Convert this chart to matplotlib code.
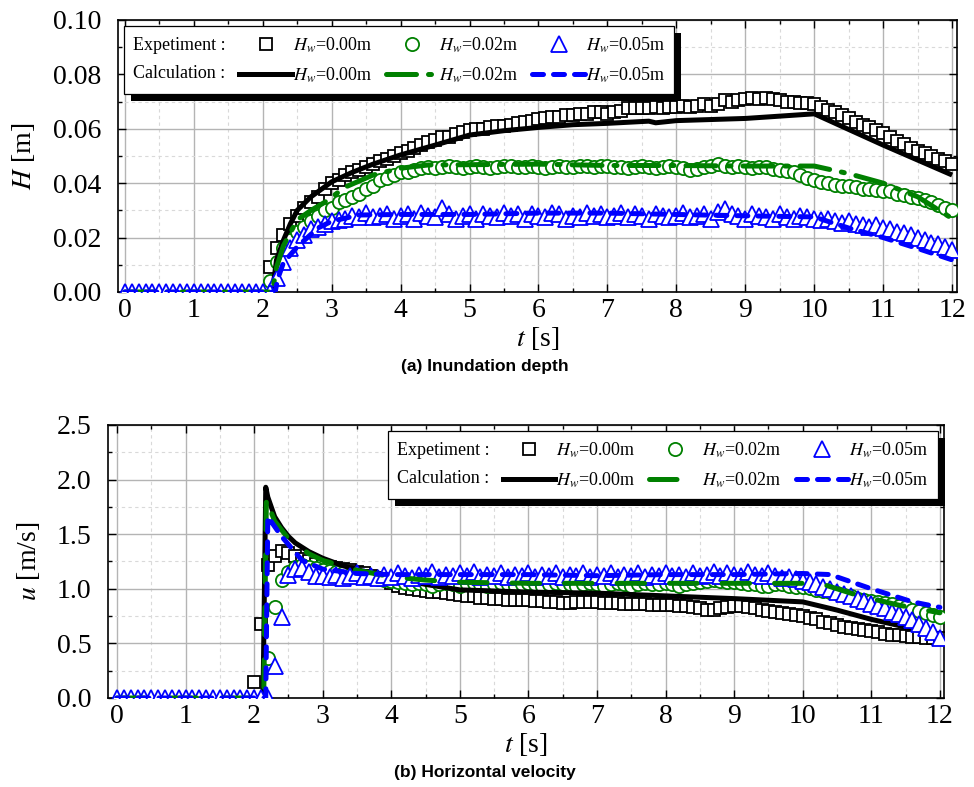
import numpy as np
import matplotlib
matplotlib.use("Agg")
import matplotlib.pyplot as plt
from matplotlib.lines import Line2D
from matplotlib.patches import Rectangle
from matplotlib.ticker import MultipleLocator

plt.rcParams['font.family'] = ['Liberation Serif', 'DejaVu Serif']
plt.rcParams['mathtext.fontset'] = 'stix'

# ---------------- (a) inundation depth H [m] ----------------
# experiment, sampled every 0.1 s
H_exp_00_start = 2.1
H_exp_00 = [0.009, 0.016, 0.021, 0.025, 0.028, 0.031, 0.033, 0.035, 0.038, 0.040,
            0.041, 0.043, 0.044, 0.045, 0.046, 0.047, 0.048, 0.049, 0.050, 0.051,
            0.052, 0.053, 0.054, 0.055, 0.056, 0.057, 0.057, 0.058, 0.059, 0.0595,
            0.060, 0.060, 0.0605, 0.061, 0.061, 0.0615, 0.062, 0.0625, 0.063, 0.0635,
            0.064, 0.0645, 0.0645, 0.065, 0.065, 0.0655, 0.0655, 0.066, 0.066, 0.0655,
            0.066, 0.0665, 0.0675, 0.0675, 0.0675, 0.0675, 0.068, 0.0675, 0.068, 0.068,
            0.0685, 0.068, 0.0685, 0.069, 0.0685, 0.069, 0.0705, 0.070, 0.0705, 0.071,
            0.0715, 0.071, 0.0715, 0.071, 0.0705, 0.070, 0.070, 0.0695, 0.0695, 0.069,
            0.068, 0.067, 0.066, 0.065, 0.064, 0.0625, 0.0615, 0.0605, 0.0595, 0.0585,
            0.057, 0.0555, 0.0545, 0.053, 0.052, 0.051, 0.050, 0.049, 0.048, 0.047]
H_exp_02_start = 2.1
H_exp_02 = [0.004, 0.011, 0.016, 0.019, 0.022, 0.024, 0.026, 0.028, 0.030, 0.031,
            0.033, 0.034, 0.035, 0.036, 0.038, 0.039, 0.041, 0.042, 0.043, 0.044,
            0.044, 0.045, 0.0455, 0.046, 0.0455, 0.046, 0.0465, 0.046, 0.0455, 0.046,
            0.0465, 0.046, 0.0455, 0.046, 0.0465, 0.0462, 0.0458, 0.046, 0.0465, 0.046,
            0.0455, 0.046, 0.0465, 0.046, 0.0458, 0.0462, 0.0465, 0.046, 0.0465, 0.0462,
            0.0458, 0.046, 0.0455, 0.046, 0.0462, 0.0458, 0.0455, 0.046, 0.0462, 0.0458,
            0.0455, 0.045, 0.0452, 0.046, 0.0465, 0.047, 0.0465, 0.046, 0.0462, 0.0458,
            0.0455, 0.046, 0.0458, 0.0452, 0.045, 0.0445, 0.044, 0.043, 0.042, 0.041,
            0.0405, 0.040, 0.0395, 0.039, 0.039, 0.0385, 0.038, 0.038, 0.0375, 0.037,
            0.037, 0.036, 0.0355, 0.035, 0.0345, 0.034, 0.033, 0.032, 0.031, 0.030]
H_exp_05_start = 0.0
H_exp_05 = [0, 0, 0, 0, 0, 0, 0, 0, 0, 0, 0, 0, 0, 0, 0, 0, 0, 0, 0, 0, 0, 0,
            0.005, 0.011, 0.016, 0.019, 0.021, 0.023, 0.024, 0.025, 0.026,
            0.0265, 0.027, 0.028, 0.0275, 0.029, 0.0275, 0.028, 0.0285, 0.027, 0.028,
            0.0285, 0.027, 0.029, 0.028, 0.0275, 0.031, 0.0285, 0.027, 0.028, 0.0285,
            0.027, 0.0285, 0.028, 0.0275, 0.029, 0.028, 0.0285, 0.027, 0.0285, 0.028,
            0.0275, 0.029, 0.0285, 0.027, 0.028, 0.0275, 0.029, 0.028, 0.0285, 0.0275,
            0.028, 0.029, 0.0275, 0.0285, 0.028, 0.027, 0.0285, 0.028, 0.0275, 0.028,
            0.029, 0.0275, 0.028, 0.0285, 0.027, 0.0295, 0.0305, 0.0285, 0.028, 0.027,
            0.0285, 0.028, 0.0275, 0.027, 0.0285, 0.0275, 0.027, 0.028, 0.0275, 0.027,
            0.0265, 0.027, 0.026, 0.0255, 0.026, 0.025, 0.0245, 0.024, 0.0245, 0.0235,
            0.023, 0.022, 0.0215, 0.021, 0.020, 0.019, 0.018, 0.0175, 0.0165, 0.0155]

# calculation
t_H_calc_00 = [0, 2.14, 2.2, 2.3, 2.4, 2.5, 2.7, 3.0, 3.3, 3.6, 4.0, 4.5, 5.0, 5.5,
               6.0, 6.5, 7.0, 7.6, 7.7, 8.0, 9.0, 10.0, 11.0, 12.0]
H_calc_00 = [0, 0, 0.0118, 0.019, 0.025, 0.030, 0.035, 0.0405, 0.044, 0.047, 0.0504,
             0.054, 0.0577, 0.0593, 0.0605, 0.0615, 0.062, 0.0628, 0.0622, 0.063,
             0.0638, 0.0655, 0.054, 0.043]
t_H_calc_02 = [0, 2.14, 2.2, 2.3, 2.5, 2.7, 2.9, 3.2, 3.6, 4.0, 4.4, 5.0, 6.0, 7.0,
               8.0, 9.0, 10.0, 10.5, 11.0, 11.5, 12.0]
H_calc_02 = [0, 0, 0.009, 0.017, 0.0265, 0.030, 0.033, 0.0386, 0.043, 0.0455, 0.0467,
             0.0468, 0.047, 0.0465, 0.0465, 0.0463, 0.0463, 0.0435, 0.040, 0.035, 0.027]
t_H_calc_05 = [0, 2.18, 2.22, 2.3, 2.5, 2.8, 3.0, 3.4, 4.0, 5.0, 6.0, 7.0, 8.0, 9.0,
               10.0, 10.5, 11.0, 11.5, 12.0]
H_calc_05 = [0, 0, 0.005, 0.0107, 0.0166, 0.0235, 0.026, 0.0283, 0.0285, 0.0285,
             0.029, 0.029, 0.0285, 0.028, 0.0276, 0.0235, 0.020, 0.016, 0.0118]

# ---------------- (b) horizontal velocity u [m/s] ----------------
u_exp_00_start = 2.0
u_exp_00 = [0.15, 0.68, 1.22, 1.30, 1.35, 1.33, 1.30, 1.27, 1.25, 1.23,
            1.21, 1.20, 1.19, 1.18, 1.17, 1.15, 1.14, 1.12, 1.10, 1.08,
            1.05, 1.03, 1.01, 1.00, 0.99, 0.98, 0.97, 0.97, 0.96, 0.95,
            0.94, 0.93, 0.93, 0.92, 0.92, 0.91, 0.91, 0.90, 0.90, 0.90,
            0.90, 0.89, 0.89, 0.88, 0.88, 0.87, 0.87, 0.88, 0.88, 0.88,
            0.88, 0.87, 0.87, 0.87, 0.86, 0.86, 0.86, 0.86, 0.85, 0.85,
            0.85, 0.85, 0.84, 0.84, 0.83, 0.82, 0.81, 0.81, 0.82, 0.83,
            0.84, 0.84, 0.83, 0.82, 0.81, 0.80, 0.79, 0.78, 0.77, 0.76,
            0.75, 0.73, 0.72, 0.70, 0.69, 0.67, 0.65, 0.64, 0.63, 0.62,
            0.61, 0.60, 0.59, 0.58, 0.58, 0.57, 0.56, 0.56, 0.55, 0.55,
            0.55]
u_exp_02_start = 2.2
u_exp_02 = [0.37, 0.83, 1.08, 1.15, 1.20, 1.22, 1.20, 1.19,
            1.17, 1.16, 1.15, 1.14, 1.13, 1.12, 1.11, 1.10, 1.09, 1.08,
            1.07, 1.06, 1.05, 1.04, 1.05, 1.04, 1.03, 1.04, 1.05, 1.04,
            1.03, 1.04, 1.05, 1.04, 1.03, 1.04, 1.05, 1.04, 1.03, 1.04,
            1.05, 1.04, 1.03, 1.04, 1.05, 1.04, 1.04, 1.03, 1.04, 1.05,
            1.04, 1.03, 1.04, 1.05, 1.04, 1.03, 1.04, 1.05, 1.04, 1.04,
            1.05, 1.04, 1.03, 1.04, 1.05, 1.06, 1.07, 1.08, 1.07, 1.06,
            1.06, 1.05, 1.04, 1.04, 1.03, 1.03, 1.04, 1.04, 1.03, 1.02,
            1.02, 1.01, 0.99, 0.98, 0.97, 0.96, 0.94, 0.93, 0.91, 0.90,
            0.89, 0.88, 0.87, 0.86, 0.84, 0.83, 0.81, 0.80, 0.78, 0.76,
            0.74]
u_exp_05_start = 0.0
u_exp_05 = [0, 0, 0, 0, 0, 0, 0, 0, 0, 0, 0, 0, 0, 0, 0, 0, 0, 0, 0, 0, 0, 0, 0,
            0.29, 0.74, 1.13, 1.18, 1.19, 1.15, 1.12,
            1.12, 1.11, 1.13, 1.10, 1.12, 1.14, 1.11, 1.12, 1.10, 1.13,
            1.11, 1.14, 1.12, 1.10, 1.13, 1.12, 1.15, 1.11, 1.13, 1.12,
            1.14, 1.12, 1.15, 1.11, 1.13, 1.12, 1.14, 1.11, 1.13, 1.12,
            1.14, 1.11, 1.13, 1.12, 1.14, 1.11, 1.13, 1.12, 1.14, 1.11,
            1.13, 1.12, 1.14, 1.11, 1.13, 1.12, 1.14, 1.11, 1.13, 1.12,
            1.14, 1.12, 1.13, 1.11, 1.14, 1.12, 1.13, 1.15, 1.12, 1.14,
            1.13, 1.12, 1.15, 1.13, 1.12, 1.14, 1.12, 1.10, 1.11, 1.09,
            1.07, 1.06, 1.04, 1.02, 1.00, 0.97, 0.95, 0.93, 0.91, 0.89,
            0.86, 0.84, 0.82, 0.79, 0.77, 0.74, 0.71, 0.68, 0.64, 0.60,
            0.55]

t_u_calc_00 = [0, 2.13, 2.17, 2.2, 2.3, 2.4, 2.5, 2.6, 2.8, 3.0, 3.3, 3.6, 4.0, 4.5,
               5.0, 6.0, 7.0, 8.0, 9.0, 10.0, 10.5, 11.0, 11.5, 12.0]
u_calc_00 = [0, 0, 1.93, 1.84, 1.66, 1.56, 1.48, 1.42, 1.34, 1.28, 1.21, 1.16, 1.11,
             1.04, 0.99, 0.97, 0.96, 0.935, 0.91, 0.88, 0.805, 0.72, 0.65, 0.57]
t_u_calc_02 = [0, 2.14, 2.18, 2.2, 2.3, 2.5, 2.8, 3.0, 3.5, 4.0, 4.5, 5.0, 6.0, 7.0,
               8.0, 9.0, 10.0, 10.3, 10.8, 11.4, 12.0]
u_calc_02 = [0, 0, 1.85, 1.78, 1.62, 1.46, 1.32, 1.26, 1.17, 1.11, 1.08, 1.06, 1.05,
             1.05, 1.05, 1.05, 1.05, 1.04, 0.94, 0.85, 0.78]
t_u_calc_05 = [0, 2.17, 2.2, 2.4, 2.7, 3.0, 3.5, 4.0, 5.0, 6.0, 7.0, 8.0, 9.0, 10.0,
               10.4, 10.7, 11.0, 11.3, 11.6, 12.0]
u_calc_05 = [0, 0, 1.66, 1.48, 1.26, 1.18, 1.14, 1.13, 1.13, 1.13, 1.12, 1.13, 1.13,
             1.14, 1.13, 1.065, 1.0, 0.94, 0.88, 0.83]

labels_hw = [r'$H_w$=0.00m', r'$H_w$=0.02m', r'$H_w$=0.05m']
colors = ['black', '#008000', '#0000ff']
markers = ['s', 'o', '^']
msizes = [8.5, 9.5, 11]


def times(start, vals):
    return np.round(start + 0.1 * np.arange(len(vals)), 2)


def style_axes(ax, ymax, ymajor, yminor):
    ax.set_xlim(-0.1, 12.07)
    ax.set_ylim(0, ymax)
    ax.xaxis.set_major_locator(MultipleLocator(1))
    ax.xaxis.set_minor_locator(MultipleLocator(0.5))
    ax.yaxis.set_major_locator(MultipleLocator(ymajor))
    ax.yaxis.set_minor_locator(MultipleLocator(yminor))
    ax.grid(which='major', color='#b4b4b4', lw=1.0, ls='-')
    ax.grid(which='minor', color='#d9d9d9', lw=0.8, ls=(0, (3, 3)))
    ax.set_axisbelow(True)
    ax.tick_params(which='both', direction='in', top=True, right=True,
                   labelsize=20, width=1.0)
    ax.tick_params(axis='x', which='both', pad=4)
    ax.tick_params(axis='y', which='both', pad=12)
    ax.tick_params(which='major', length=6)
    ax.tick_params(which='minor', length=3)
    for s in ax.spines.values():
        s.set_linewidth(1.2)


def add_legend(ax, calc_styles, loc):
    blank = Line2D([], [], ls='none', marker='none')
    exp_h = [Line2D([], [], ls='none', marker=m, ms=ms, mfc='white', mec=c, mew=1.3)
             for m, ms, c in zip(markers, msizes, colors)]
    handles = [blank, blank]
    labels = ['Expetiment :', 'Calculation :']
    for eh, ch, lab in zip(exp_h, calc_styles, labels_hw):
        handles += [eh, ch]
        labels += [lab, lab]
    leg = ax.legend(handles, labels, ncol=4, loc=loc, fontsize=13,
                    frameon=True, fancybox=False, framealpha=1, edgecolor='black',
                    handlelength=2.9, handletextpad=0.05, columnspacing=0.75,
                    borderpad=0.5, labelspacing=0.6, borderaxespad=0.35)
    leg.get_frame().set_linewidth(0.9)
    # first column is text only: drop its handle space
    cols = leg._legend_handle_box.get_children()
    for item in cols[0].get_children():
        item.get_children()[0].width = 0
        item.sep = 0
    return leg


def add_shadow(fig, ax, leg):
    renderer = fig.canvas.get_renderer()
    bb = leg.get_window_extent(renderer)
    inv = ax.transAxes.inverted()
    (x0, y0), (x1, y1) = inv.transform([[bb.x0 + 7, bb.y0 - 7], [bb.x1 + 7, bb.y1 - 7]])
    ax.add_patch(Rectangle((x0, y0), x1 - x0, y1 - y0, transform=ax.transAxes,
                           facecolor='black', edgecolor='none', zorder=4.9,
                           clip_on=False))


fig = plt.figure(figsize=(9.74, 7.87), dpi=100)
ax1 = fig.add_axes([0.1211, 0.6290, 0.8614, 0.3456])
ax2 = fig.add_axes([0.1109, 0.1131, 0.8583, 0.3469])

# ---- panel (a)
lw = 3.6
calc_a = [dict(ls='-', color='black'),
          dict(ls=(0, (6, 2.4, 0.6, 2.4)), color='#008000'),
          dict(ls=(0, (2.2, 2.0)), color='#0000ff')]
exp_a = [(H_exp_00_start, H_exp_00), (H_exp_02_start, H_exp_02), (H_exp_05_start, H_exp_05)]
calc_a_data = [(t_H_calc_00, H_calc_00), (t_H_calc_02, H_calc_02), (t_H_calc_05, H_calc_05)]
for i in range(3):
    st, vals = exp_a[i]
    ax1.plot(times(st, vals), vals, ls='none', marker=markers[i], ms=msizes[i],
             mfc='white', mec=colors[i], mew=1.3, zorder=2 + i)
for i in range(3):
    tc, vc = calc_a_data[i]
    ax1.plot(tc, vc, lw=lw, solid_capstyle='butt', dash_capstyle='round',
             zorder=3 + i, **calc_a[i])
style_axes(ax1, 0.10, 0.02, 0.01)
ax1.set_xlabel(r'$t$ [s]', fontsize=20, labelpad=2)
ax1.set_ylabel(r'$H$ [m]', fontsize=20)
ax1.yaxis.set_label_coords(-0.097, 0.5)
leg_a_styles = [Line2D([], [], lw=lw, **calc_a[0]),
                Line2D([], [], lw=lw, dash_capstyle='round', **calc_a[1]),
                Line2D([], [], lw=lw, dash_capstyle='round', **calc_a[2])]
leg1 = add_legend(ax1, leg_a_styles, 'upper left')

# ---- panel (b)
calc_b = [dict(ls='-', color='black'),
          dict(ls=(0, (5.5, 5)), color='#008000'),
          dict(ls=(0, (2.2, 2.0)), color='#0000ff')]
exp_b = [(u_exp_00_start, u_exp_00), (u_exp_02_start, u_exp_02), (u_exp_05_start, u_exp_05)]
calc_b_data = [(t_u_calc_00, u_calc_00), (t_u_calc_02, u_calc_02), (t_u_calc_05, u_calc_05)]
for i in range(3):
    st, vals = exp_b[i]
    ax2.plot(times(st, vals), vals, ls='none', marker=markers[i], ms=msizes[i],
             mfc='white', mec=colors[i], mew=1.3, zorder=2 + i)
for i in range(3):
    tc, vc = calc_b_data[i]
    ax2.plot(tc, vc, lw=lw, solid_capstyle='butt', dash_capstyle='round',
             zorder=3 + i, **calc_b[i])
style_axes(ax2, 2.5, 0.5, 0.25)
ax2.set_xlim(-0.13, 12.06)
ax2.set_xlabel(r'$t$ [s]', fontsize=20, labelpad=2)
ax2.set_ylabel(r'$u$ [m/s]', fontsize=20)
ax2.yaxis.set_label_coords(-0.079, 0.5)
leg_b_styles = [Line2D([], [], lw=lw, **calc_b[0]),
                Line2D([], [], lw=lw, dash_capstyle='round', ls=(0, (5.5, 6.5)),
                       color='#008000'),
                Line2D([], [], lw=lw, dash_capstyle='round', **calc_b[2])]
leg2 = add_legend(ax2, leg_b_styles, 'upper right')

fig.text(0.498, 0.5337, '(a) Inundation depth', ha='center', va='center',
         fontsize=12.5, fontweight='bold', family='Liberation Sans')
fig.text(0.498, 0.0178, '(b) Horizontal velocity', ha='center', va='center',
         fontsize=12.5, fontweight='bold', family='Liberation Sans')

fig.canvas.draw()
add_shadow(fig, ax1, leg1)
add_shadow(fig, ax2, leg2)

fig.savefig('out.png', dpi=100)
